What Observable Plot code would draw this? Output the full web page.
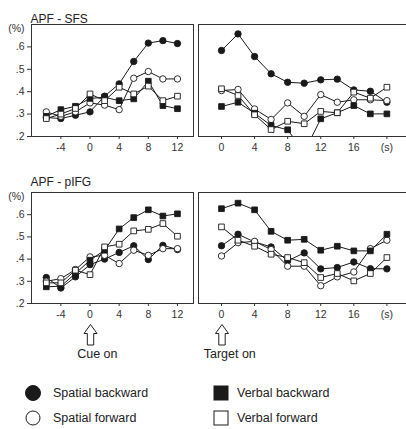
<!DOCTYPE html>
<html><head><meta charset="utf-8">
<script src="https://cdn.jsdelivr.net/npm/d3@7"></script>
<script src="https://cdn.jsdelivr.net/npm/@observablehq/plot@0.6"></script>
<style>
body{margin:0;background:#fff;font-family:"Liberation Sans",Arial,sans-serif;}
#wrap{position:relative;width:406px;height:429px;overflow:hidden;background:#fff;}
#wrap > svg{position:absolute;overflow:visible;}
.lg{position:absolute;font-size:12.5px;color:#222;line-height:14px;white-space:nowrap;}
.lgm{position:absolute;}
</style></head><body><div id="wrap"></div>
<script>
// ---- data ----
const series = ["Spatial backward", "Spatial forward", "Verbal backward", "Verbal forward"];
const cueTimes = [-6, -4, -2, 0, 2, 4, 6, 8, 10, 12];
const targetTimes = [0, 2, 4, 6, 8, 10, 12, 14, 16, 18, 20];
const yTicks = [0.2, 0.3, 0.4, 0.5, 0.6];
const cueTicks = [-4, 0, 4, 8, 12];
const targetTicks = [0, 4, 8, 12, 16, 20];
const targetTickLabels = ["0", "4", "8", "12", "16", "(s)"];

// APF - SFS, cue-locked
const sfsCueSB = [0.285, 0.28, 0.295, 0.31, 0.38, 0.435, 0.535, 0.617, 0.628, 0.615];
const sfsCueSF = [0.31, 0.29, 0.31, 0.35, 0.34, 0.32, 0.46, 0.49, 0.457, 0.457];
const sfsCueVB = [0.29, 0.32, 0.335, 0.37, 0.375, 0.36, 0.368, 0.447, 0.338, 0.324];
const sfsCueVF = [0.28, 0.30, 0.325, 0.39, 0.36, 0.42, 0.39, 0.425, 0.36, 0.38];
// APF - SFS, target-locked
const sfsTgtSB = [0.584, 0.658, 0.557, 0.48, 0.442, 0.438, 0.453, 0.456, 0.408, 0.402, 0.353];
const sfsTgtSF = [0.405, 0.41, 0.323, 0.276, 0.35, 0.29, 0.387, 0.353, 0.364, 0.364, 0.36];
const sfsTgtVB = [0.334, 0.353, 0.304, 0.249, 0.23, 0.13, 0.279, 0.306, 0.338, 0.301, 0.301];
const sfsTgtVF = [0.413, 0.383, 0.297, 0.231, 0.268, 0.257, 0.312, 0.306, 0.398, 0.371, 0.42];
// APF - pIFG, cue-locked
const ifgCueSB = [0.317, 0.27, 0.32, 0.375, 0.40, 0.43, 0.46, 0.398, 0.462, 0.443];
const ifgCueSF = [0.30, 0.312, 0.353, 0.41, 0.417, 0.38, 0.44, 0.417, 0.447, 0.447];
const ifgCueVB = [0.275, 0.278, 0.335, 0.395, 0.44, 0.536, 0.587, 0.622, 0.594, 0.604];
const ifgCueVF = [0.293, 0.293, 0.35, 0.33, 0.455, 0.467, 0.527, 0.534, 0.56, 0.503];
// APF - pIFG, target-locked
const ifgTgtSB = [0.46, 0.512, 0.477, 0.455, 0.392, 0.428, 0.356, 0.362, 0.387, 0.357, 0.356];
const ifgTgtSF = [0.414, 0.474, 0.48, 0.443, 0.368, 0.368, 0.28, 0.32, 0.342, 0.447, 0.485];
const ifgTgtVB = [0.627, 0.652, 0.622, 0.525, 0.485, 0.489, 0.44, 0.458, 0.437, 0.437, 0.512];
const ifgTgtVF = [0.545, 0.485, 0.458, 0.422, 0.407, 0.384, 0.317, 0.335, 0.302, 0.335, 0.407];

// ---- helpers ----
const NS = "http://www.w3.org/2000/svg";
const INK = "#1a1a1a";
const AX = "#333";
function tidy(times, arrs) {
  const out = [];
  series.forEach((s, i) => arrs[i].forEach((v, j) => out.push({s, t: times[j], v})));
  return out;
}
const fmtY = d => d.toFixed(1).replace(/^0/, "");

function arrowMark(t) {
  return function(index, scales, values, dimensions) {
    const sx = scales && typeof scales.x === "function" ? scales.x : null;
    const x = (sx ? sx(t) : 0) + 1;
    const yb = dimensions.height - dimensions.marginBottom;
    const top = yb + 21.5, neck = yb + 30.5, bot = yb + 42;
    const p = document.createElementNS(NS, "path");
    p.setAttribute("d", `M${x},${top}L${x + 6.5},${neck}L${x + 3.2},${neck}L${x + 3.2},${bot}L${x - 3.2},${bot}L${x - 3.2},${neck}L${x - 6.5},${neck}Z`);
    p.setAttribute("fill", "#fff");
    p.setAttribute("stroke", "#222");
    p.setAttribute("stroke-width", "1");
    return p;
  };
}

function makePanel(o) {
  const data = tidy(o.times, o.values);
  const marks = [];
  if (o.side === "left") {
    marks.push(Plot.frame({stroke: AX, strokeWidth: 1}));
    marks.push(Plot.axisY({ticks: yTicks, tickFormat: fmtY, tickSize: 4, tickPadding: 3, fontSize: 10.5, label: null, stroke: AX, fill: AX}));
    marks.push(Plot.text(["(%)"], {text: d => d, frameAnchor: "top-left", textAnchor: "end", dx: -7, fontSize: 10.5, fill: AX}));
    marks.push(Plot.text([o.title], {text: d => d, frameAnchor: "top-left", textAnchor: "start", dx: -1, dy: o.titleDy, fontSize: 12, fill: "#222"}));
  } else {
    marks.push(Plot.ruleY([0.2, 0.7], {stroke: AX, strokeWidth: 1}));
    marks.push(Plot.ruleX([o.xDomain[0]], {stroke: AX, strokeWidth: 1}));
  }
  marks.push(Plot.axisX({ticks: o.ticks, tickFormat: (d, i) => o.tickLabels ? o.tickLabels[o.ticks.indexOf(d)] : String(d), tickSize: 3, tickPadding: 4.5, fontSize: 10.5, label: null, stroke: AX, fill: AX}));
  marks.push(Plot.line(data, {x: "t", y: "v", z: "s", stroke: INK, strokeWidth: 1, clip: true}));
  marks.push(Plot.dot(data, {x: "t", y: "v", symbol: "s", fill: "s", stroke: INK, strokeWidth: 0.9, r: 3.2, clip: true}));
  if (o.arrowLabel) {
    marks.push(arrowMark(0));
    marks.push(Plot.text([{t: 0, label: o.arrowLabel}], {x: d => d.t + 1, text: "label", frameAnchor: "bottom", dy: 54, fontSize: 12.5, fill: "#222"}));
  }
  const svg = Plot.plot({
    width: o.width, height: o.height,
    marginLeft: o.ml, marginRight: o.mr, marginTop: o.mt, marginBottom: o.mb,
    style: {background: "transparent", fontFamily: "Liberation Sans, Arial, sans-serif", fontSize: "10.5px", overflow: "visible"},
    x: {domain: o.xDomain},
    y: {domain: [0.2, 0.7], axis: o.side === "left" ? undefined : null},
    symbol: {domain: series, range: ["circle", "circle", "square", "square"]},
    color: {domain: series, range: [INK, "#fff", INK, "#fff"]},
    marks
  });
  svg.style.left = o.left + "px";
  svg.style.top = o.top + "px";
  document.getElementById("wrap").appendChild(svg);
}

const cueDomain = [-8.03, 14.2];
const tgtDomain = [-2.78, 22.37];
// top row (APF - SFS)
makePanel({side: "left", title: "APF - SFS", titleDy: -10, times: cueTimes, values: [sfsCueSB, sfsCueSF, sfsCueVB, sfsCueVF],
  xDomain: cueDomain, ticks: cueTicks, left: 0, top: 0, width: 200, height: 160, ml: 31, mr: 7, mt: 24, mb: 24});
makePanel({side: "right", times: targetTimes, values: [sfsTgtSB, sfsTgtSF, sfsTgtVB, sfsTgtVF],
  xDomain: tgtDomain, ticks: targetTicks, tickLabels: targetTickLabels, left: 190, top: 0, width: 216, height: 160, ml: 8, mr: 0, mt: 24, mb: 24});
// bottom row (APF - pIFG)
makePanel({side: "left", title: "APF - pIFG", titleDy: -15, times: cueTimes, values: [ifgCueSB, ifgCueSF, ifgCueVB, ifgCueVF],
  xDomain: cueDomain, ticks: cueTicks, arrowLabel: "Cue on", left: 0, top: 160, width: 200, height: 210, ml: 31, mr: 7, mt: 32, mb: 67});
makePanel({side: "right", times: targetTimes, values: [ifgTgtSB, ifgTgtSF, ifgTgtVB, ifgTgtVF],
  xDomain: tgtDomain, ticks: targetTicks, tickLabels: targetTickLabels, arrowLabel: "Target on", left: 190, top: 160, width: 216, height: 210, ml: 8, mr: 0, mt: 32, mb: 67});

// ---- legend (below the charts) ----
const legendItems = [
  {label: series[0], shape: "circle", fill: INK, cx: 33, cy: 393, tx: 53},
  {label: series[1], shape: "circle", fill: "#fff", cx: 33, cy: 418, tx: 53},
  {label: series[2], shape: "square", fill: INK, cx: 221, cy: 393, tx: 237},
  {label: series[3], shape: "square", fill: "#fff", cx: 221, cy: 418, tx: 237}
];
const wrap = document.getElementById("wrap");
for (const it of legendItems) {
  const s = document.createElementNS(NS, "svg");
  s.setAttribute("width", 18); s.setAttribute("height", 18);
  s.setAttribute("class", "lgm");
  s.style.left = (it.cx - 9) + "px"; s.style.top = (it.cy - 9) + "px";
  let el;
  if (it.shape === "circle") {
    el = document.createElementNS(NS, "circle");
    el.setAttribute("cx", 9); el.setAttribute("cy", 9); el.setAttribute("r", it.fill === "#fff" ? 7 : 7.5);
  } else {
    el = document.createElementNS(NS, "rect");
    el.setAttribute("x", 2); el.setAttribute("y", 2); el.setAttribute("width", 14); el.setAttribute("height", 14);
  }
  el.setAttribute("fill", it.fill); el.setAttribute("stroke", INK); el.setAttribute("stroke-width", 1);
  s.appendChild(el);
  wrap.appendChild(s);
  const d = document.createElement("div");
  d.className = "lg";
  d.textContent = it.label;
  d.style.left = it.tx + "px"; d.style.top = (it.cy - 7) + "px";
  wrap.appendChild(d);
}
</script></body></html>
